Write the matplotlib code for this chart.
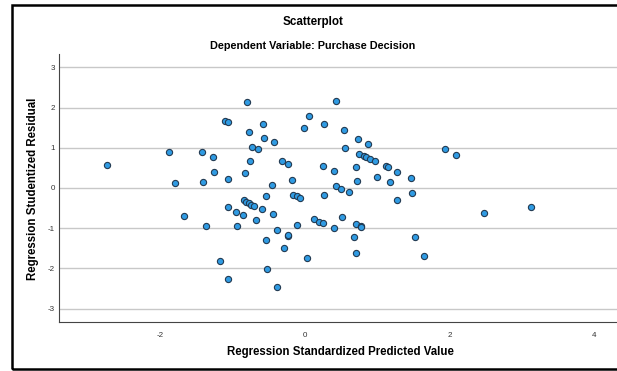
import matplotlib
matplotlib.use('Agg')
import matplotlib.pyplot as plt
from matplotlib.patches import Rectangle

# standardized predicted value (x) / studentized residual (y)
pred = [-2.74, -1.88, -1.79, -1.67, -1.42, -1.41, -1.37, -1.27, -1.26, -1.18,
        -1.10, -1.06, -1.06, -1.06, -1.07, -0.95, -0.94, -0.86, -0.84, -0.81,
        -0.77, -0.74, -0.70, -0.83, -0.80, -0.77, -0.76, -0.73, -0.68, -0.65,
        -0.59, -0.58, -0.56, -0.54, -0.54, -0.52, -0.46, -0.44, -0.43, -0.39,
        -0.38, -0.32, -0.29, -0.24, -0.23, -0.23, -0.18, -0.17, -0.11, -0.07,
        -0.11, -0.01, 0.03, 0.05, 0.13, 0.20, 0.25, 0.25, 0.27, 0.27,
        0.40, 0.40, 0.43, 0.43, 0.50, 0.51, 0.54, 0.56, 0.61, 0.68,
        0.70, 0.71, 0.71, 0.72, 0.73, 0.75, 0.77, 0.78, 0.82, 0.85,
        0.87, 0.90, 0.97, 1.00, 1.12, 1.15, 1.17, 1.27, 1.27, 1.46,
        1.48, 1.52, 1.64, 1.93, 2.09, 2.47, 3.13]
resid = [0.57, 0.90, 0.12, -0.70, 0.89, 0.16, -0.95, 0.76, 0.40, -1.81,
         1.67, 1.65, 0.22, -0.48, -2.26, -0.60, -0.94, -0.66, -0.31, -0.34,
         -0.38, -0.42, -0.44, 0.38, 2.13, 1.39, 0.68, 1.01, -0.80, 0.96,
         -0.51, 1.60, 1.24, -0.21, -1.29, -2.01, 0.07, -0.65, 1.14, -2.47,
         -1.05, 0.68, -1.50, -1.19, -1.18, 0.60, 0.21, -0.17, -0.21, -0.25,
         -0.93, 1.49, -1.75, 1.78, -0.77, -0.84, -0.87, 0.55, 1.59, -0.18,
         0.43, -1.00, 2.17, 0.04, -0.02, -0.73, 1.43, 1.00, -0.11, -1.22,
         -0.89, -1.61, 0.53, 0.17, 1.21, 0.85, -0.95, -0.96, 0.80, 0.78,
         1.10, 0.73, 0.66, 0.28, 0.54, 0.52, 0.14, 0.41, -0.31, 0.26,
         -0.12, -1.23, -1.68, 0.97, 0.81, -0.62, -0.46]

xticks = [-2, 0, 2, 4]
yticks = [-3, -2, -1, 0, 1, 2, 3]

W, H = 617, 371
plt.rcParams['font.family'] = ['Liberation Sans', 'DejaVu Sans']
plt.rcParams['axes.unicode_minus'] = False
fig = plt.figure(figsize=(W / 100, H / 100), dpi=100)

# axes box in pixel terms of the reference
left, right, top, bottom = 59, 621, 54, 322
ax = fig.add_axes([left / W, 1 - bottom / H, (right - left) / W, (bottom - top) / H])
ax.set_xlim(-3.40, 4.37)
ax.set_ylim(-3.33, 3.33)

ax.scatter(pred, resid, s=20, color='#2f9be3', edgecolors='#223a52', linewidths=0.8, zorder=3)

ax.set_xticks(xticks)
ax.set_yticks(yticks)
ax.tick_params(length=0, labelsize=5.8, labelcolor='#333333')
ax.tick_params(axis='x', pad=7)
ax.tick_params(axis='y', pad=3)
ax.grid(axis='y', color='#c8c8c8', linewidth=1.0)
ax.set_axisbelow(True)
for s in ['top', 'right']:
    ax.spines[s].set_visible(False)
ax.spines['left'].set_color('#444444')
ax.spines['bottom'].set_color('#444444')
ax.spines['left'].set_linewidth(0.8)
ax.spines['bottom'].set_linewidth(0.8)

fig.text(313 / W, 1 - 22 / H, 'Scatterplot', ha='center', va='center', fontsize=8.4, fontweight='bold')
fig.text(313 / W, 1 - 46 / H, 'Dependent Variable: Purchase Decision', ha='center', va='center',
         fontsize=7.8, fontweight='bold')
fig.text(340 / W, 1 - 352 / H, 'Regression Standardized Predicted Value', ha='center', va='center',
         fontsize=8.3, fontweight='bold')
fig.text(33 / W, 1 - 189 / H, 'Regression Studentized Residual', ha='center', va='center',
         rotation=90, fontsize=8.3, fontweight='bold')

# outer frame (right side runs off the picture)
fig.patches.append(Rectangle((11.5 / W, 2 / H), 1.2, 1 - 6.5 / H, transform=fig.transFigure,
                             fill=False, edgecolor='black', linewidth=1.8))

fig.savefig('out.png', dpi=100)
